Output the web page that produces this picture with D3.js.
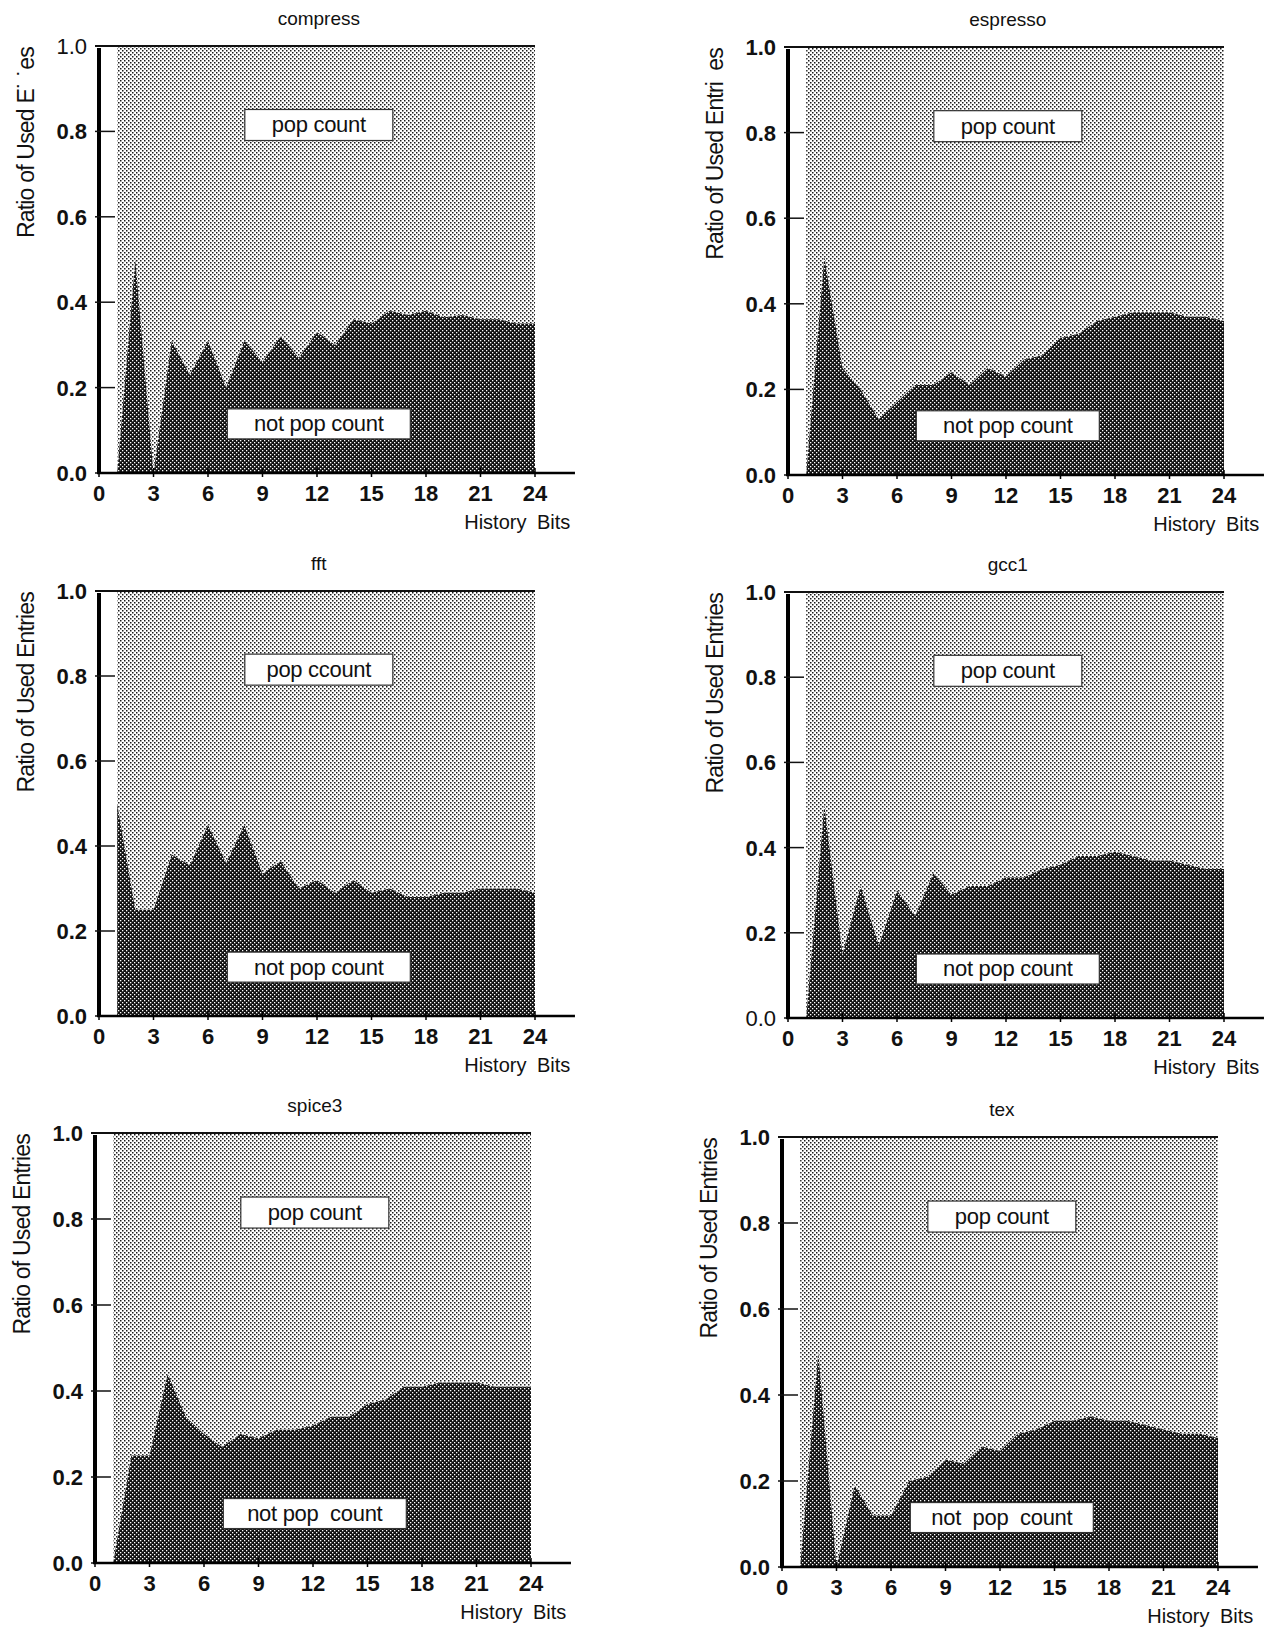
<!DOCTYPE html>
<html>
<head>
<meta charset="utf-8">
<script src="https://cdn.jsdelivr.net/npm/d3@7/dist/d3.min.js"></script>
<style>
  body { margin: 0; background: #fff; }
  svg { display: block; }
  text { font-family: "Liberation Sans", Arial, Helvetica, sans-serif; fill: #111; }
</style>
</head>
<body>
<svg id="chart" width="1267" height="1634"></svg>
<script>
// History-bit lengths on the x axis
const historyBits = d3.range(1, 25);

// Ratio of used entries that are "not pop count", per benchmark (bits 1..24)
const compressRatio = [0.00, 0.50, 0.00, 0.31, 0.23, 0.31, 0.20, 0.31, 0.26, 0.32, 0.27, 0.33,
                       0.30, 0.36, 0.35, 0.38, 0.37, 0.38, 0.365, 0.37, 0.36, 0.36, 0.35, 0.35];
const espressoRatio = [0.00, 0.51, 0.25, 0.20, 0.13, 0.17, 0.21, 0.21, 0.24, 0.21, 0.25, 0.23,
                       0.27, 0.28, 0.32, 0.33, 0.36, 0.37, 0.38, 0.38, 0.38, 0.37, 0.37, 0.36];
const fftRatio      = [0.50, 0.25, 0.25, 0.38, 0.355, 0.45, 0.36, 0.45, 0.335, 0.365, 0.30, 0.32,
                       0.29, 0.32, 0.29, 0.30, 0.28, 0.28, 0.29, 0.29, 0.30, 0.30, 0.30, 0.29];
const gcc1Ratio     = [0.00, 0.50, 0.15, 0.31, 0.17, 0.30, 0.24, 0.34, 0.29, 0.31, 0.31, 0.33,
                       0.33, 0.35, 0.36, 0.38, 0.38, 0.39, 0.38, 0.37, 0.37, 0.36, 0.35, 0.35];
const spice3Ratio   = [0.00, 0.25, 0.25, 0.44, 0.34, 0.30, 0.27, 0.30, 0.29, 0.31, 0.31, 0.32,
                       0.34, 0.34, 0.37, 0.38, 0.41, 0.41, 0.42, 0.42, 0.42, 0.41, 0.41, 0.41];
const texRatio      = [0.00, 0.50, 0.00, 0.19, 0.12, 0.12, 0.20, 0.21, 0.25, 0.24, 0.28, 0.27,
                       0.31, 0.32, 0.34, 0.34, 0.35, 0.34, 0.34, 0.33, 0.32, 0.31, 0.31, 0.30];

// Axis ticks
const yTickValues = [0, 0.2, 0.4, 0.6, 0.8, 1.0];
const xTickValues = [0, 3, 6, 9, 12, 15, 18, 21, 24];

// Texts
const benchmarkNames = ["compress", "espresso", "fft", "gcc1", "spice3", "tex"];
const yAxisTitles = ["Ratio of Used E\u02D9 \u02D9es", "Ratio of Used Entri  es", "Ratio of Used Entries",
                     "Ratio of Used Entries", "Ratio of Used Entries", "Ratio of Used Entries"];
const popLabels = ["pop count", "pop count", "pop ccount", "pop count", "pop count", "pop count"];
const notPopLabels = ["not pop count", "not pop count", "not pop count", "not pop count", "not pop  count", "not  pop  count"];
const xAxisTitle = "History Bits";

const seriesList = [compressRatio, espressoRatio, fftRatio, gcc1Ratio, spice3Ratio, texRatio];

// Panel frames: axis position and vertical extent of each small chart
const frames = [
  { axisX: 99,  top: 46,   bottom: 473,  thinTick: [1.0] },
  { axisX: 788, top: 47,   bottom: 475,  thinTick: [] },
  { axisX: 99,  top: 591,  bottom: 1016, thinTick: [] },
  { axisX: 788, top: 592,  bottom: 1018, thinTick: [0] },
  { axisX: 95,  top: 1133, bottom: 1563, thinTick: [] },
  { axisX: 782, top: 1137, bottom: 1567, thinTick: [] }
];

const svg = d3.select("#chart");
const defs = svg.append("defs");

// Halftone-like fills
const lite = defs.append("pattern").attr("id", "lite")
  .attr("patternUnits", "userSpaceOnUse").attr("width", 4).attr("height", 4);
lite.append("rect").attr("width", 4).attr("height", 4).attr("fill", "#fff");
lite.append("rect").attr("x", 0).attr("y", 0).attr("width", 1.5).attr("height", 1.5).attr("fill", "#1a1a1a");
lite.append("rect").attr("x", 2).attr("y", 2).attr("width", 1.5).attr("height", 1.5).attr("fill", "#1a1a1a");

const dark = defs.append("pattern").attr("id", "dark")
  .attr("patternUnits", "userSpaceOnUse").attr("width", 4).attr("height", 4);
dark.append("rect").attr("width", 4).attr("height", 4).attr("fill", "#111");
dark.append("rect").attr("x", 0).attr("y", 0).attr("width", 1.3).attr("height", 1.3).attr("fill", "#fff");
dark.append("rect").attr("x", 2).attr("y", 2).attr("width", 1.3).attr("height", 1.3).attr("fill", "#fff");

seriesList.forEach((series, i) => {
  const f = frames[i];
  const x = d3.scaleLinear().domain([0, 24]).range([f.axisX, f.axisX + 436]);
  const y = d3.scaleLinear().domain([0, 1]).range([f.bottom, f.top]);
  const data = historyBits.map((b, k) => ({ bit: b, v: series[k] }));
  const g = svg.append("g");

  // upper region: pop count share
  g.append("path").datum(data)
    .attr("d", d3.area().x(d => x(d.bit)).y0(d => y(d.v)).y1(y(1)))
    .attr("fill", "url(#lite)");
  // lower region: not pop count share
  g.append("path").datum(data)
    .attr("d", d3.area().x(d => x(d.bit)).y0(y(0)).y1(d => y(d.v)))
    .attr("fill", "url(#dark)");

  // top border of the filled block
  g.append("line")
    .attr("x1", f.axisX - 4).attr("x2", x(24))
    .attr("y1", y(1)).attr("y2", y(1))
    .attr("stroke", "#111").attr("stroke-width", 2);

  // y axis
  g.append("line")
    .attr("x1", f.axisX).attr("x2", f.axisX)
    .attr("y1", y(1) + 2).attr("y2", y(0) + 1)
    .attr("stroke", "#000").attr("stroke-width", 4);
  g.selectAll(".ytick").data(yTickValues).join("line")
    .attr("x1", f.axisX - 4).attr("x2", f.axisX + 16)
    .attr("y1", d => y(d)).attr("y2", d => y(d))
    .attr("stroke", "#111").attr("stroke-width", 1.5);
  g.selectAll(".ylab").data(yTickValues).join("text")
    .attr("x", f.axisX - 12).attr("y", d => y(d)).attr("dy", "0.36em")
    .attr("text-anchor", "end")
    .attr("font-size", 22)
    .attr("font-weight", d => f.thinTick.includes(d) ? "normal" : "bold")
    .text(d => d3.format(".1f")(d));

  // x axis
  g.append("line")
    .attr("x1", f.axisX - 2).attr("x2", x(26.2))
    .attr("y1", y(0)).attr("y2", y(0))
    .attr("stroke", "#000").attr("stroke-width", 2.5);
  g.selectAll(".xtick").data(xTickValues).join("line")
    .attr("x1", d => x(d)).attr("x2", d => x(d))
    .attr("y1", y(0) - 5).attr("y2", y(0) + 4)
    .attr("stroke", "#000").attr("stroke-width", 1.5);
  g.selectAll(".xlab").data(xTickValues).join("text")
    .attr("x", d => x(d)).attr("y", y(0) + 28)
    .attr("text-anchor", "middle")
    .attr("font-size", 22).attr("font-weight", "bold")
    .text(d => d);

  // axis titles
  g.append("text")
    .attr("x", x(26) - 1).attr("y", y(0) + 56)
    .attr("text-anchor", "end").attr("font-size", 20)
    .attr("word-spacing", 5)
    .text(xAxisTitle);
  g.append("text")
    .attr("transform", `translate(${f.axisX - 65},${y(1) + 1}) rotate(-90)`)
    .attr("text-anchor", "end").attr("font-size", 23)
    .attr("letter-spacing", -0.8)
    .style("white-space", "pre")
    .text(yAxisTitles[i]);

  // benchmark name
  g.append("text")
    .attr("x", x(12.1)).attr("y", y(1) - 21)
    .attr("text-anchor", "middle").attr("font-size", 19)
    .text(benchmarkNames[i]);

  // region labels in white boxes
  const boxes = [
    { text: popLabels[i], v: 0.815, w: 148, h: 31 },
    { text: notPopLabels[i], v: 0.115, w: 183, h: 30 }
  ];
  boxes.forEach(b => {
    const cx = x(12.1), cy = y(b.v);
    g.append("rect")
      .attr("x", cx - b.w / 2).attr("y", cy - b.h / 2)
      .attr("width", b.w).attr("height", b.h)
      .attr("fill", "#fff").attr("stroke", "#333").attr("stroke-width", 1.2);
    g.append("text")
      .attr("x", cx).attr("y", cy).attr("dy", "0.34em")
      .attr("text-anchor", "middle").attr("font-size", 22)
      .attr("letter-spacing", -0.3)
      .style("white-space", "pre")
      .text(b.text);
  });
});
</script>
</body>
</html>
